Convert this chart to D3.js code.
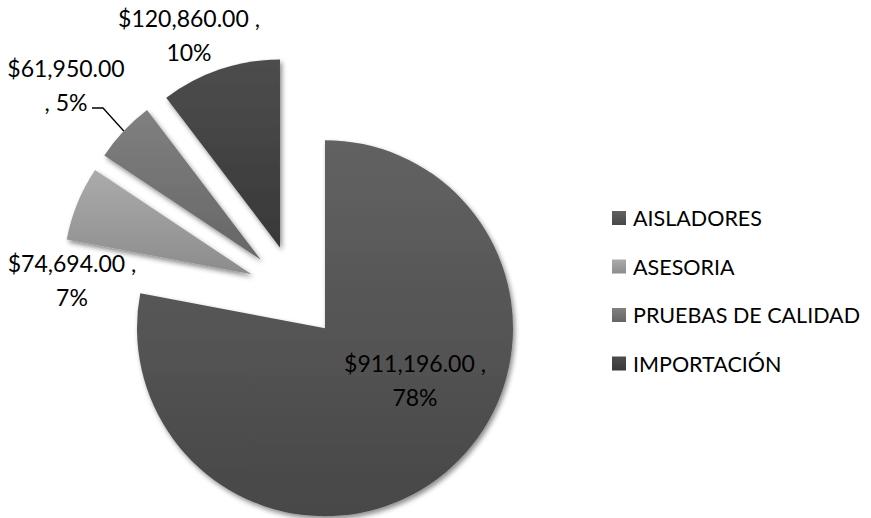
<!DOCTYPE html>
<html>
<head>
<meta charset="utf-8">
<script src="https://cdn.jsdelivr.net/npm/d3@7"></script>
<style>
  body { margin: 0; background: #fff; }
  #pie-chart { width: 871px; height: 518px; }
  text { font-family: Lato, "Open Sans", sans-serif; fill: #000; }
</style>
</head>
<body>
<div id="pie-chart"></div>
<script>
const categories = ["AISLADORES", "ASESORIA", "PRUEBAS DE CALIDAD", "IMPORTACIÓN"];
const values = [911196, 74694, 61950, 120860];
const percentLabels = ["78%", "7%", "5%", "10%"];
const valueLabels = ["$911,196.00 ,", "$74,694.00 ,", "$61,950.00", "$120,860.00 ,"];

// gradient stops per slice (top, bottom)
const sliceColors = [
  ["#626262", "#474747"],
  ["#ababab", "#8c8c8c"],
  ["#808080", "#666666"],
  ["#4d4d4d", "#383838"]
];

function renderPie() {
  const container = d3.select("#pie-chart");
  const width = 871, height = 518;
  const cx = 295, cy = 292, radius = 188, explode = 47;

  const svg = container.append("svg").attr("width", width).attr("height", height);
  const defs = svg.append("defs");

  const shadow = defs.append("filter").attr("id", "shadow")
    .attr("x", "-20%").attr("y", "-20%").attr("width", "140%").attr("height", "140%");
  shadow.append("feDropShadow")
    .attr("dx", 2).attr("dy", 3).attr("stdDeviation", 2.5)
    .attr("flood-color", "#000").attr("flood-opacity", 0.45);

  sliceColors.forEach((c, i) => {
    const grad = defs.append("linearGradient").attr("id", "grad" + i)
      .attr("x1", 0).attr("y1", 0).attr("x2", 0).attr("y2", 1);
    grad.append("stop").attr("offset", "0%").attr("stop-color", c[0]);
    grad.append("stop").attr("offset", "100%").attr("stop-color", c[1]);
  });

  const data = categories.map((name, i) => ({
    name, value: values[i], pct: percentLabels[i], label: valueLabels[i], i
  }));

  const pie = d3.pie().sort(null).value(d => d.value);
  const arcs = pie(data);
  const arc = d3.arc().innerRadius(0).outerRadius(radius);

  const offset = d => {
    const a = (d.startAngle + d.endAngle) / 2;
    return [Math.sin(a) * explode, -Math.cos(a) * explode];
  };

  const g = svg.append("g").attr("transform", `translate(${cx},${cy})`);

  g.selectAll("path.slice")
    .data(arcs)
    .enter()
    .append("path")
    .attr("class", "slice")
    .attr("transform", d => `translate(${offset(d)})`)
    .attr("d", arc)
    .attr("fill", d => `url(#grad${d.data.i})`)
    .attr("filter", "url(#shadow)");

  // data label placement (absolute, like the original)
  const labelPos = [
    { x: 415, y: 363 },
    { x: 72, y: 263 },
    { x: 66, y: 68 },
    { x: 189, y: 18 }
  ];
  const lineGap = 34;

  const labels = svg.append("g").selectAll("text.lbl")
    .data(arcs)
    .enter()
    .append("text")
    .attr("class", "lbl")
    .attr("text-anchor", "middle")
    .attr("font-size", 23)
    .attr("dominant-baseline", "central");

  labels.append("tspan")
    .attr("x", d => labelPos[d.data.i].x)
    .attr("y", d => labelPos[d.data.i].y)
    .text(d => d.data.label);
  labels.append("tspan")
    .attr("x", d => labelPos[d.data.i].x)
    .attr("y", d => labelPos[d.data.i].y + lineGap)
    .text(d => (d.data.i === 2 ? ", " : "") + d.data.pct);

  // leader line for the small slice label
  const pruebas = arcs[2];
  const mid = (pruebas.startAngle + pruebas.endAngle) / 2;
  const off = offset(pruebas);
  const ex = cx + off[0] + Math.sin(mid) * radius;
  const ey = cy + off[1] - Math.cos(mid) * radius;
  svg.append("path")
    .attr("d", `M92,108 L103,108 L${ex},${ey}`)
    .attr("fill", "none")
    .attr("stroke", "#000")
    .attr("stroke-width", 1.3);

  // legend
  const legend = svg.append("g").attr("transform", "translate(612,218)");
  const rows = legend.selectAll("g")
    .data(data)
    .enter()
    .append("g")
    .attr("transform", (d, i) => `translate(0,${i * 48.5})`);
  rows.append("rect")
    .attr("x", 0).attr("y", -7)
    .attr("width", 14).attr("height", 14)
    .attr("fill", d => `url(#grad${d.i})`);
  rows.append("text")
    .attr("x", 21).attr("y", 0)
    .attr("dominant-baseline", "central")
    .attr("font-size", 21.5)
    .text(d => d.name);
}

renderPie();
</script>
</body>
</html>
